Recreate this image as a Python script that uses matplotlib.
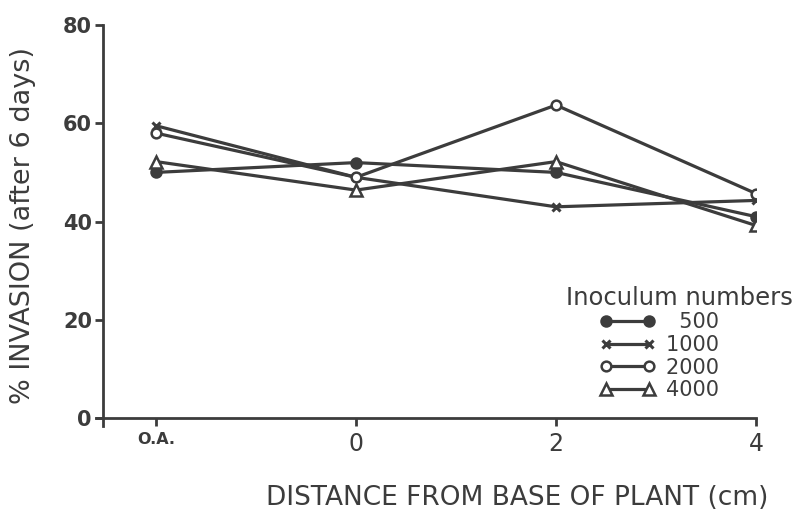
import matplotlib
matplotlib.use("Agg")
import matplotlib.pyplot as plt

categories = ["O.A.", "0", "2", "4"]
series_labels = ["500", "1000", "2000", "4000"]
vals_500 = [50.0, 52.0, 50.0, 41.0]
vals_1000 = [59.5, 49.0, 43.0, 44.3]
vals_2000 = [58.0, 49.0, 63.7, 45.7]
vals_4000 = [52.2, 46.4, 52.2, 39.2]

ink = "#3c3c3c"
plt.rcParams['font.family'] = ['DejaVu Sans']

fig = plt.figure(figsize=(7.98, 5.15), dpi=100)
ax = fig.add_axes([0.1203, 0.1728, 0.827, 0.7787])

xpos = list(range(len(categories)))
styles = [
    dict(marker="o", mfc=ink, mec=ink, ms=7.5, mew=1.5),
    dict(marker="x", mfc=ink, mec=ink, ms=6, mew=2.2),
    dict(marker="o", mfc="white", mec=ink, ms=7, mew=1.8),
    dict(marker="^", mfc="white", mec=ink, ms=8.5, mew=1.8),
]
fs = "\u2007"
for vals, lab, st in zip([vals_500, vals_1000, vals_2000, vals_4000], series_labels, styles):
    shown = (fs * (4 - len(lab))) + lab + fs * 3
    ax.plot(xpos, vals, color=ink, lw=2.3, label=shown, **st)

ax.set_xlim(-0.3, 3.0)
ax.set_ylim(-1.6, 80)
ax.spines['top'].set_visible(False)
ax.spines['right'].set_visible(False)
ax.spines['left'].set_position(('data', -0.265))
ax.spines['bottom'].set_position(('data', 0))
for s in ['left', 'bottom']:
    ax.spines[s].set_color(ink)
    ax.spines[s].set_linewidth(2.0)

ax.set_yticks([0, 20, 40, 60, 80])
ax.set_xticks(xpos)
ax.set_xticklabels(categories)
ax.tick_params(axis='both', direction='out', length=6, width=2.0, color=ink)
ax.tick_params(axis='y', pad=2, labelsize=15, labelcolor=ink)
ax.tick_params(axis='x', pad=4, labelsize=17, labelcolor=ink)
for t in ax.get_yticklabels():
    t.set_fontweight('bold')
for t in ax.get_xticklabels():
    if t.get_text() == "O.A.":
        t.set_fontweight('bold')
        t.set_fontsize(11.5)

ax.set_xlabel("DISTANCE FROM BASE OF PLANT (cm)", fontsize=19, color=ink)
ax.xaxis.set_label_coords(0.638, -0.147)
ax.set_ylabel("% INVASION (after 6 days)", fontsize=19.5, color=ink)
ax.yaxis.set_label_coords(-0.091, 0.501)

leg = ax.legend(title="Inoculum numbers", frameon=False, numpoints=2,
                loc="upper center", bbox_to_anchor=(679 / 798, 1 - 286 / 515),
                bbox_transform=fig.transFigure, fontsize=15,
                title_fontproperties={'size': 17.5}, handlelength=2.7,
                handletextpad=0.5, labelspacing=0.12, borderpad=0, borderaxespad=0)
for t in leg.get_texts():
    t.set_color(ink)
leg.get_title().set_color(ink)

fig.savefig("out.png", dpi=100)
